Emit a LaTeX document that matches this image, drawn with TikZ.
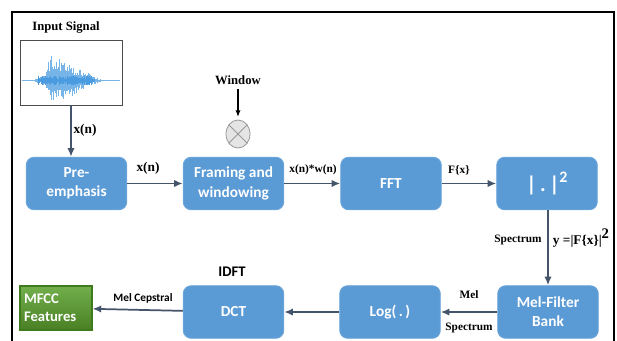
\documentclass[tikz,border=0pt]{standalone}
\usepackage{fontspec}
\setmainfont{Liberation Serif}
\newfontfamily\calib{Carlito}
\usetikzlibrary{arrows.meta,shapes.geometric}
\definecolor{boxblue}{HTML}{5B9BD5}
\definecolor{boxedge}{HTML}{6FA8DC}
\definecolor{arrowc}{HTML}{44546A}
\definecolor{greenf}{HTML}{5AA02C}
\definecolor{greene}{HTML}{3F7A1F}
\definecolor{wave}{HTML}{4A9BDF}
\tikzset{
  procbox/.style={draw=boxedge, line width=0.6pt, fill=boxblue, rounded corners=6pt,
    text=white, font=\calib\bfseries\fontsize{11.5}{14.5}\selectfont, align=center,
    minimum width=75.5pt, minimum height=39.5pt, inner sep=0pt},
  flow/.style={draw=arrowc, line width=1.3pt, -{Latex[length=6.5pt,width=5.5pt]}},
  lbl/.style={font=\bfseries\fontsize{8.5}{10}\selectfont, text=black, inner sep=1pt},
  slbl/.style={font=\calib\bfseries\fontsize{8.5}{10}\selectfont, text=black, inner sep=1pt}
}
\begin{document}
\begin{tikzpicture}[x=0.75pt,y=-0.75pt]
\useasboundingbox (0,0) rectangle (617,340);
\fill[white] (0,0) rectangle (617,340);
% outer frame
\draw[black, line width=1.1pt] (12,341) -- (12,12) -- (614,12) -- (614,341);

% input signal
\node[font=\bfseries\fontsize{9.5}{11}\selectfont] (intitle) at (66,27) {Input Signal};
\node[draw=black!70, line width=0.6pt, minimum width=76.5pt, minimum height=48.75pt, inner sep=0pt] (sig) at (71,72.5) {};
\pgfmathsetseed{11}
\begin{scope}[wave!75, line width=0.3pt]
  \draw[line width=0.5pt] (22,80.5) -- (120,80.5);
  \foreach \i in {0,...,65}{
    \pgfmathsetmacro{\xx}{35+\i*1.0}
    \pgfmathsetmacro{\env}{(\xx<45 ? 2+4*(\xx-35)/10 : (\xx<50 ? 6+22*(\xx-45)/5 : max(0.5, 28*(1-(\xx-50)/52))))}
    \pgfmathsetmacro{\aa}{\env*(0.35+0.65*rnd)}
    \pgfmathsetmacro{\bb}{\env*(0.35+0.65*rnd)}
    \draw (\xx,80.5-\aa) -- (\xx,80.5+\bb);
  }
\end{scope}
\begin{scope}[wave, line width=0.5pt]
  \foreach \i in {0,...,75}{
    \pgfmathsetmacro{\xx}{38+\i*0.75}
    \pgfmathsetmacro{\aa}{(\xx<92 ? 4 : 1.5)*(0.4+0.8*rnd)}
    \draw (\xx,80.5-\aa) -- (\xx,80.5+\aa);
  }
\end{scope}

% window
\node[font=\bfseries\fontsize{9.5}{11}\selectfont] (win) at (238,80) {Window};
\node[draw=gray!80, fill=gray!20, line width=0.6pt, ellipse, inner sep=0pt,
      minimum width=18pt, minimum height=21pt] (mult) at (238,134) {};
\draw[gray!80, line width=0.6pt] (mult.45) -- (mult.225) (mult.135) -- (mult.315);
\draw[black, line width=1.2pt, -{Latex[length=5pt,width=4pt]}] (win.south) -- (238,117);

% row 1
\node[procbox] (pre) at (76.5,183.5) {Pre-\\emphasis};
\node[procbox] (frm) at (233.5,183.5) {Framing and\\windowing};
\node[procbox] (fft) at (391,183.5) {FFT};
\node[procbox, font=\calib\bfseries\fontsize{16}{18}\selectfont] (abs) at (547,183.5) {|\,.\,|\raisebox{0.45em}{\fontsize{12}{14}\selectfont 2}};

% row 2
\node[procbox] (mel) at (548,312) {Mel-Filter\\Bank};
\node[procbox] (log) at (390,312) {Log(\,.\,)};
\node[procbox] (dct) at (233.5,312) {DCT};
\node[draw=greene, line width=0.8pt, top color=greenf!85!white, bottom color=greenf!80!black,
      minimum width=54pt, minimum height=33pt, inner sep=2pt, text=white, align=left,
      font=\calib\bfseries\fontsize{11}{13.5}\selectfont, text width=48pt] (mfcc) at (56,308) {MFCC\\Features};

% connectors
\draw[flow] (sig.south) -- (pre.north -| sig.south);
\draw[flow] (pre) -- (frm);
\draw[flow] (frm) -- (fft);
\draw[flow] (fft) -- (abs);
\draw[flow] (abs.south -| mel.north) -- (mel.north);
\draw[flow] (mel) -- (log);
\draw[flow] (log) -- (dct);
\draw[flow] (dct) -- (mfcc);

% labels
\node[lbl, font=\bfseries\fontsize{10}{12}\selectfont] at (85,130) {x(n)};
\node[lbl, font=\bfseries\fontsize{10}{12}\selectfont] at (148,168) {x(n)};
\node[lbl] at (313,170) {x(n)*w(n)};
\node[lbl] at (459,170) {F\{x\}};
\node[lbl] at (518,240) {Spectrum};
\node[lbl, font=\bfseries\fontsize{10}{12}\selectfont] at (581,238) {y =|F\{x\}|\raisebox{0.45em}{\fontsize{11}{12}\selectfont 2}};
\node[lbl] at (469,295) {Mel};
\node[lbl] at (469,328) {Spectrum};
\node[slbl, font=\calib\bfseries\fontsize{11}{13}\selectfont] at (232,272) {IDFT};
\node[slbl] at (143,298) {Mel Cepstral};
\end{tikzpicture}
\end{document}
